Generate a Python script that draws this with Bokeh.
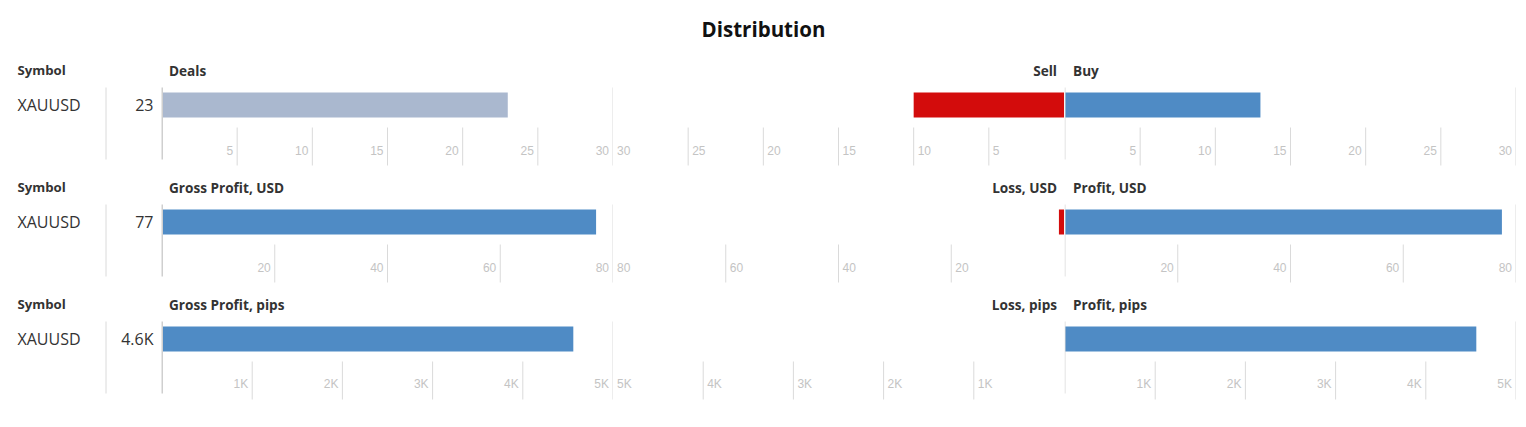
from bokeh.plotting import figure
from bokeh.models import Range1d
from bokeh.layouts import column, row
from bokeh.embed import file_html
from bokeh.resources import INLINE
from bokeh.core.properties import value

# ---------------- data ----------------
symbols = ["XAUUSD"]
metric_titles = ["Deals", "Gross Profit, USD", "Gross Profit, pips"]
neg_titles = ["Sell", "Loss, USD", "Loss, pips"]
pos_titles = ["Buy", "Profit, USD", "Profit, pips"]
totals = [23, 77.0, 4560]
neg_values = [10, 0.9, 0]
pos_values = [13, 77.5, 4560]
axis_max = [30, 80, 5000]
tick_values = [[5, 10, 15, 20, 25, 30], [20, 40, 60, 80], [1000, 2000, 3000, 4000, 5000]]
tick_labels = [["5", "10", "15", "20", "25", "30"], ["20", "40", "60", "80"],
               ["1K", "2K", "3K", "4K", "5K"]]

# ---------------- style ----------------
FONT = value("Open Sans")
TICK_FONT = value("Liberation Sans")
TEXT_COLOR = "#333333"
TICK_COLOR = "#c4c4c4"
LINE_COLOR = "#dadada"
AXIS_COLOR = "#cfcfcf"
DEALS_COLOR = "#aab8cf"
BLUE = "#4f8bc5"
RED = "#d30c0c"
total_colors = [DEALS_COLOR, BLUE, BLUE]

TITLE_H = 56
ROW_H = 117
LABEL_W = 161
PANEL_PX = 451          # pixels for the full axis span
HEADER_Y = 13.5
HEADER_SIZE = "13.6px"
BAR_Y = 48.5
BAR_H = 25
LINE_TOP = 31
LINE_BOT = 103
TICK_TOP = 71
TICK_BOT = 109
TICK_LABEL_Y = 93.5


def fmt(v):
    if v >= 1000:
        return f"{v / 1000:.1f}K"
    return f"{round(v)}"


def base_fig(width, height, xr, yr):
    p = figure(width=width, height=height, x_range=xr, y_range=yr,
               output_backend="svg", toolbar_location=None,
               x_axis_location=None, y_axis_location=None,
               min_border=0, tools="")
    p.grid.visible = False
    p.outline_line_color = None
    p.background_fill_color = "white"
    p.border_fill_color = "white"
    return p


def label_fig(i):
    p = base_fig(LABEL_W, ROW_H, Range1d(0, LABEL_W), Range1d(ROW_H, 0))
    p.text(x=[17], y=[HEADER_Y], text=["Symbol"], text_font=FONT, text_font_size="13.2px",
           text_font_style="bold", text_color=TEXT_COLOR, text_baseline="middle")
    p.text(x=[17], y=[BAR_Y], text=[symbols[0]], text_font=FONT, text_font_size="16px",
           text_color=TEXT_COLOR, text_baseline="middle")
    p.segment(x0=[105.5], y0=[LINE_TOP], x1=[105.5], y1=[LINE_BOT], line_color=LINE_COLOR, line_width=1)
    p.text(x=[153], y=[BAR_Y], text=[fmt(totals[i])], text_font=FONT, text_font_size="16px",
           text_color=TEXT_COLOR, text_baseline="middle", text_align="right")
    return p


def panel(i, side):
    m = axis_max[i]
    u = m / PANEL_PX
    if side == "neg":
        xr = Range1d(m - 0.5 * u, -0.5 * u)
        width = 451
    else:
        xr = Range1d(-0.5 * u, m + 0.5 * u)
        width = 452
    p = base_fig(width, ROW_H, xr, Range1d(ROW_H, 0))
    ticks = tick_values[i]
    labels = tick_labels[i]

    # tick lines
    short = [t for t in ticks if t != m]
    p.segment(x0=short, y0=[TICK_TOP] * len(short), x1=short, y1=[TICK_BOT] * len(short),
              line_color=LINE_COLOR, line_width=1)
    if side != "neg":
        p.segment(x0=[m], y0=[LINE_TOP], x1=[m], y1=[TICK_BOT], line_color=LINE_COLOR, line_width=1)

    # bars
    if side == "total":
        v, color, title = totals[i], total_colors[i], metric_titles[i]
    elif side == "neg":
        v, color, title = neg_values[i], RED, neg_titles[i]
    else:
        v, color, title = pos_values[i], BLUE, pos_titles[i]
    if v > 0:
        p.hbar(y=[BAR_Y], left=[0], right=[v], height=BAR_H, fill_color=color, line_color=None)

    # zero lines
    if side == "total":
        p.segment(x0=[0], y0=[LINE_TOP], x1=[0], y1=[LINE_BOT], line_color=AXIS_COLOR, line_width=2)
    elif side == "pos":
        p.segment(x0=[0], y0=[LINE_TOP], x1=[0], y1=[LINE_BOT], line_color=LINE_COLOR, line_width=1)

    # tick labels
    if side == "neg":
        p.text(x=ticks, y=[TICK_LABEL_Y] * len(ticks), text=labels, text_align="left", x_offset=4,
               text_baseline="middle", text_font=TICK_FONT, text_font_size="12px", text_color=TICK_COLOR)
    else:
        p.text(x=ticks, y=[TICK_LABEL_Y] * len(ticks), text=labels, text_align="right", x_offset=-4,
               text_baseline="middle", text_font=TICK_FONT, text_font_size="12px", text_color=TICK_COLOR)

    # header
    if side == "neg":
        p.text(x=[0], y=[HEADER_Y], text=[title], text_align="right", x_offset=-7,
               text_baseline="middle", text_font=FONT, text_font_size=HEADER_SIZE,
               text_font_style="bold", text_color=TEXT_COLOR)
    else:
        p.text(x=[0], y=[HEADER_Y], text=[title], text_align="left", x_offset=7 if side == "total" else 8,
               text_baseline="middle", text_font=FONT, text_font_size=HEADER_SIZE,
               text_font_style="bold", text_color=TEXT_COLOR)
    return p


title = base_fig(1518, TITLE_H, Range1d(0, 1518), Range1d(TITLE_H, 0))
title.text(x=[763], y=[28], text=["Distribution"], text_align="center", text_baseline="middle",
           text_font=FONT, text_font_size="20.5px", text_font_style="bold", text_color="#111111")

rows = [title]
for i in range(3):
    rows.append(row(label_fig(i), panel(i, "total"), panel(i, "neg"), panel(i, "pos")))

layout = column(*rows)
open("out.html", "w").write(file_html(layout, INLINE))
